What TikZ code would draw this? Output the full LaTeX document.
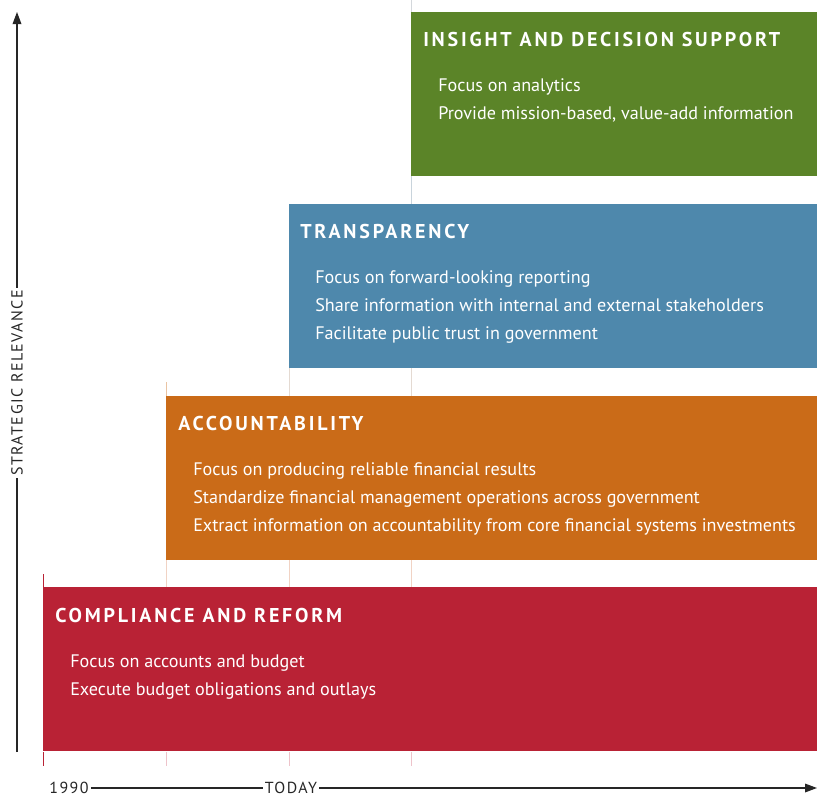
\documentclass[tikz,border=0pt]{standalone}
\usepackage{fontspec}
\setmainfont{PT Sans}
\newfontfamily\titlefont{PT Sans}[LetterSpace=14]
\newfontfamily\axisfont{PT Sans}[LetterSpace=9]
\usetikzlibrary{arrows.meta}
\definecolor{cgreen}{HTML}{5B8428}
\definecolor{cblue}{HTML}{4E88AC}
\definecolor{corange}{HTML}{CA6B18}
\definecolor{cred}{HTML}{B92235}
\definecolor{tgreen}{HTML}{C9D4DC}
\definecolor{tblue}{HTML}{E4DAD2}
\definecolor{torange}{HTML}{F1D3C4}
\definecolor{tred}{HTML}{EEC3CA}
\definecolor{tgray}{HTML}{D4D8DC}
\begin{document}
\begin{tikzpicture}[x=0.75pt,y=-0.75pt,
  box/.style={draw=none,anchor=north west,inner sep=0,minimum height=123pt},
  ttl/.style={anchor=base west,inner sep=0,text=white,font=\titlefont\bfseries\fontsize{15pt}{17pt}\selectfont},
  itm/.style={anchor=base west,inner sep=0,text=white,font=\fontsize{13.6pt}{16pt}\selectfont},
  guide/.style={line width=0.75pt},
  axlbl/.style={inner sep=1.5pt,font=\axisfont\fontsize{12pt}{14pt}\selectfont,text=black!85},
  axis/.style={line width=0.9pt,black!85}]
\useasboundingbox (0,0) rectangle (819,801);
% guide lines
\draw[guide,tgray] (411,0) -- (411,12);
\draw[guide,tgreen] (411,176) -- (411,204);
\draw[guide,tblue] (411,368) -- (411,396);
\draw[guide,tblue] (289,368) -- (289,396);
\draw[guide,corange!40] (166,382) -- (166,396);
\draw[guide,torange] (411,560) -- (411,587);
\draw[guide,torange] (289,560) -- (289,587);
\draw[guide,torange] (166,560) -- (166,587);
\draw[guide,cred] (43,574) -- (43,587);
\draw[guide,tred] (411,752) -- (411,766);
\draw[guide,tred] (289,752) -- (289,766);
\draw[guide,tred] (166,752) -- (166,766);
\draw[guide,cred] (43,752) -- (43,766);
% boxes
\node[box,fill=cgreen,minimum width=304.5pt] (g) at (411,12) {};
\node[box,fill=cblue,minimum width=396pt] (b) at (289,204) {};
\node[box,fill=corange,minimum width=488.25pt] (o) at (166,396) {};
\node[box,fill=cred,minimum width=580.5pt] (r) at (43,587) {};
% green
\node[ttl] (gt) at (423,46) {INSIGHT AND DECISION SUPPORT};
\node[itm] (g1) at (438,91) {Focus on analytics};
\node[itm] (g2) at (438,119) {Provide mission-based, value-add information};
% blue
\node[ttl] (bt) at (300,238) {TRANSPARENCY};
\node[itm] (b1) at (315,283) {Focus on forward-looking reporting};
\node[itm] (b2) at (315,311) {Share information with internal and external stakeholders};
\node[itm] (b3) at (315,339) {Facilitate public trust in government};
% orange
\node[ttl] (ot) at (178,430) {ACCOUNTABILITY};
\node[itm] (o1) at (193,475) {Focus on producing reliable financial results};
\node[itm] (o2) at (193,503) {Standardize financial management operations across government};
\node[itm] (o3) at (193,531) {Extract information on accountability from core financial systems investments};
% red
\node[ttl] (rt) at (55,622) {COMPLIANCE AND REFORM};
\node[itm] (r1) at (70,667) {Focus on accounts and budget};
\node[itm] (r2) at (70,695) {Execute budget obligations and outlays};
% vertical axis
\coordinate (vb) at (17,752);
\coordinate (vt) at (17,12);
\node[axlbl,rotate=90] (vl) at (17,383) {STRATEGIC RELEVANCE};
\draw[axis] (vb) -- (vl.west);
\draw[axis,-{Triangle[length=9pt,width=6.5pt]}] (vl.east) -- (vt);
% horizontal axis
\node[axlbl] (h1) at (69,788) {1990};
\node[axlbl] (h2) at (291,788) {TODAY};
\coordinate (he) at (817,788);
\draw[axis] (h1.east) -- (h2.west);
\draw[axis,-{Triangle[length=9pt,width=6.5pt]}] (h2.east) -- (he);
\end{tikzpicture}
\end{document}
